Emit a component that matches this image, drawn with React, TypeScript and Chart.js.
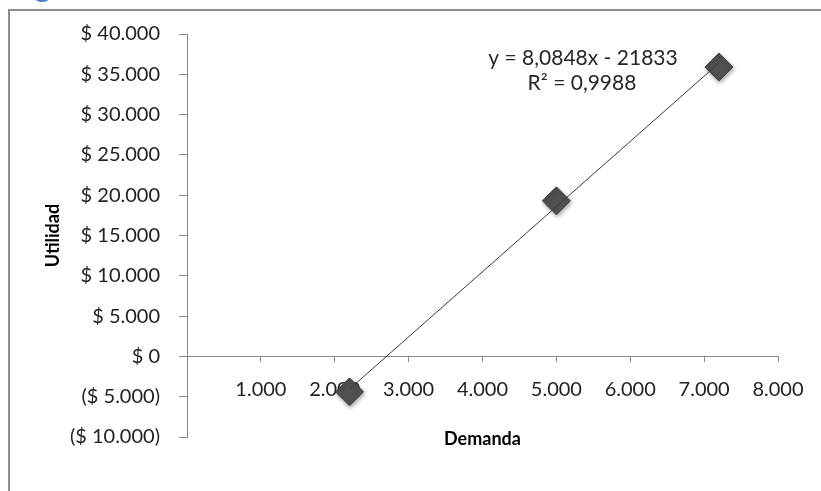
import React, { useEffect, useRef } from 'react';
import { Chart, registerables } from 'chart.js';

Chart.register(...registerables);

// ---- data ----
const demanda = [2200, 5000, 7200];
const utilidad = [-4400, 19300, 35900];
const trendSlope = 8.0848;
const trendIntercept = -21833;
const trendR2 = 0.9988;
const yMin = -10000;
const yMax = 40000;
const yStep = 5000;
const xMin = 0;
const xMax = 8000;
const xStep = 1000;
const titleText = 'Figura 1. Relación Demanda - Utilidad';
const xTitle = 'Demanda';
const yTitle = 'Utilidad';

const FONT = 'Lato, "Open Sans", sans-serif';

function thousands(n: number): string {
  return String(Math.round(n)).replace(/\B(?=(\d{3})+(?!\d))/g, '.');
}
function money(v: number): string {
  if (v < 0) return `($ ${thousands(-v)})`;
  return `$ ${thousands(v)}`;
}

const eqLine1 = `y = ${trendSlope.toFixed(4).replace('.', ',')}x - ${Math.abs(trendIntercept)}`;
const eqLine2 = `R² = ${trendR2.toFixed(4).replace('.', ',')}`;

const equationPlugin = {
  id: 'equationLabel',
  afterDatasetsDraw(chart: any) {
    const ctx = chart.ctx;
    ctx.save();
    ctx.fillStyle = '#262626';
    ctx.font = `21px ${FONT}`;
    ctx.textAlign = 'center';
    ctx.textBaseline = 'middle';
    ctx.fillText(eqLine1, 583, 58);
    ctx.fillText(eqLine2, 582, 83);
    ctx.restore();
  },
};

const shadowPlugin = {
  id: 'markerShadow',
  beforeDatasetDraw(chart: any, args: any) {
    if (args.index === 1) {
      const ctx = chart.ctx;
      ctx.save();
      ctx.shadowColor = 'rgba(0,0,0,0.35)';
      ctx.shadowBlur = 4;
      ctx.shadowOffsetX = 1;
      ctx.shadowOffsetY = 2;
    }
  },
  afterDatasetDraw(chart: any, args: any) {
    if (args.index === 1) chart.ctx.restore();
  },
};

export default function App() {
  const canvasRef = useRef<HTMLCanvasElement | null>(null);

  useEffect(() => {
    const canvas = canvasRef.current;
    if (!canvas) return;
    const lo = Math.min(...demanda);
    const hi = Math.max(...demanda);
    const trendData = [lo, hi].map((x) => ({ x, y: trendSlope * x + trendIntercept }));
    const points = demanda.map((x, i) => ({ x, y: utilidad[i] }));

    const chart = new Chart(canvas, {
      type: 'scatter',
      data: {
        datasets: [
          {
            label: 'Tendencia',
            data: trendData,
            showLine: true,
            borderColor: '#3a3a3a',
            borderWidth: 1,
            pointRadius: 0,
            order: 0,
          },
          {
            label: 'Utilidad',
            data: points,
            pointStyle: 'rectRot',
            pointRadius: 14,
            pointHoverRadius: 14,
            backgroundColor: '#505050',
            borderColor: '#3c3c3c',
            borderWidth: 1,
            order: 1,
          },
        ],
      },
      options: {
        animation: false,
        responsive: true,
        maintainAspectRatio: false,
        layout: { padding: { left: 0, top: 34, right: 43, bottom: 54 } },
        plugins: {
          legend: { display: false },
          tooltip: { enabled: false },
        },
        scales: {
          x: {
            type: 'linear',
            position: { y: 0 } as any,
            min: xMin,
            max: xMax,
            ticks: {
              stepSize: xStep,
              color: '#222',
              font: { family: FONT, size: 20 },
              padding: 16,
              maxRotation: 0,
              callback: (v: any) => (Number(v) === 0 ? '' : thousands(Number(v))),
            },
            grid: { display: true, drawOnChartArea: false, tickLength: 5, color: '#8a8a8a' },
            border: { display: true, color: '#8a8a8a', width: 1 },
            title: {
              display: true,
              text: xTitle,
              color: '#000',
              font: { family: FONT, size: 18, weight: 'bold' },
              padding: 0,
            },
            afterFit: (scale: any) => {
              scale.height = 94;
            },
          },
          y: {
            type: 'linear',
            position: 'left',
            min: yMin,
            max: yMax,
            ticks: {
              stepSize: yStep,
              color: '#222',
              font: { family: FONT, size: 20 },
              padding: 19,
              callback: (v: any) => money(Number(v)),
            },
            grid: { display: true, drawOnChartArea: false, tickLength: 8, color: '#8a8a8a' },
            border: { display: true, color: '#8a8a8a', width: 1 },
            title: {
              display: true,
              text: yTitle,
              color: '#000',
              font: { family: FONT, size: 18, weight: 'bold' },
              padding: { top: 42, bottom: 0 },
            },
            afterFit: (scale: any) => {
              scale.width = 187;
            },
          },
        },
      },
      plugins: [equationPlugin, shadowPlugin],
    });
    return () => chart.destroy();
  }, []);

  return (
    <div>
      <div
        style={{
          position: 'fixed',
          left: 10,
          top: -30,
          font: `bold 30px ${FONT}`,
          lineHeight: '30px',
          color: '#4F81BD',
          whiteSpace: 'nowrap',
        }}
      >
        {titleText}
      </div>
      <div
        style={{
          position: 'fixed',
          left: 8,
          top: 9,
          width: 813,
          height: 482,
          borderTop: '2px solid #8c8c8c',
          borderLeft: '2px solid #8c8c8c',
          boxSizing: 'border-box',
          background: '#fff',
        }}
      />
      <div style={{ position: 'fixed', left: 0, top: 0, width: 821, height: 491 }}>
        <canvas ref={canvasRef} />
      </div>
    </div>
  );
}
